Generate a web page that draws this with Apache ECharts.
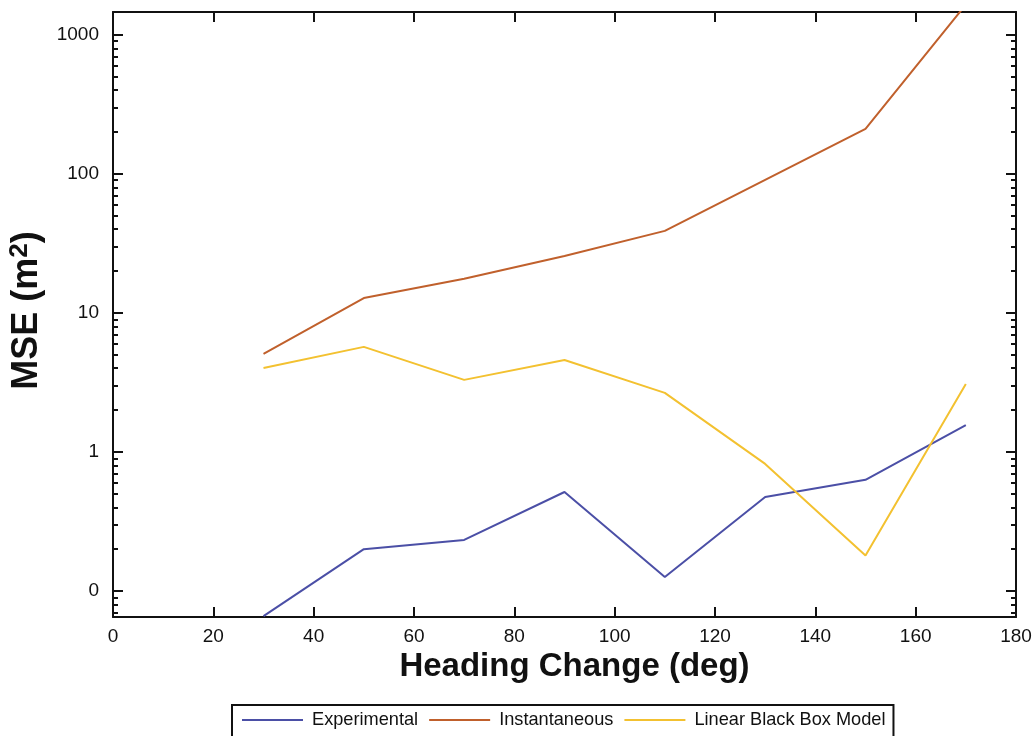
<!DOCTYPE html>
<html>
<head>
<meta charset="utf-8">
<script src="https://cdn.jsdelivr.net/npm/echarts@6/dist/echarts.min.js"></script>
<style>
  html, body { margin: 0; padding: 0; background: #fff; }
  #main { width: 1034px; height: 736px; }
</style>
</head>
<body>
<div id="main"></div>
<script>
// 横轴：航向变化 (deg)
const headingChange = [30, 50, 70, 90, 110, 130, 150, 170]
// 三条曲线的 MSE 值 (m^2)
const experimental = [0.066, 0.2, 0.233, 0.515, 0.126, 0.474, 0.63, 1.56]
const instantaneous = [5.07, 12.8, 17.6, 25.7, 38.9, 90.6, 211, 1650]
const linearBlackBox = [4.02, 5.7, 3.3, 4.59, 2.66, 0.82, 0.18, 3.08]
const seriesNames = ['Experimental', 'Instantaneous', 'Linear Black Box Model']

;(function () {
  let myChart = echarts.init(document.getElementById('main'))
  const font = 'Liberation Sans, Arial, Helvetica, sans-serif'
  const pair = (ys) => headingChange.map((x, i) => [x, ys[i]])

  // 共用的 y 轴样式（左右两条，onZero 要关掉，否则右轴会跑到 x=0 处）
  const yBase = {
    type: 'log',
    logBase: 10,
    min: 0.065,
    max: 1460,
    axisLine: { show: true, onZero: false, lineStyle: { color: '#111', width: 2 } },
    axisTick: { show: true, inside: true, length: 10, lineStyle: { color: '#111', width: 2 } },
    minorTick: { show: true, splitNumber: 9, length: 5, lineStyle: { color: '#111', width: 2 } },
    splitLine: { show: false },
    minorSplitLine: { show: false }
  }
  const xBase = {
    type: 'value',
    min: 0,
    max: 180,
    interval: 20,
    axisLine: { show: true, onZero: false, lineStyle: { color: '#111', width: 2 } },
    axisTick: { show: true, inside: true, length: 10, lineStyle: { color: '#111', width: 2 } },
    splitLine: { show: false }
  }

  let option = {
    animation: false,
    color: ['#4b4fa6', '#c0602c', '#f3c130'],
    // outerBoundsMode 关掉，网格位置固定不被轴名挤动
    grid: { left: 113, right: 18, top: 12, bottom: 119, containLabel: false, outerBoundsMode: 'none' },
    legend: {
      data: seriesNames,
      top: 705,
      left: 232,
      itemWidth: 61,
      itemHeight: 2,
      itemGap: 11,
      padding: [6, 8, 10, 10],
      borderColor: '#111',
      borderWidth: 2,
      icon: 'rect',
      textStyle: { fontFamily: font, fontSize: 18.2, color: '#111', padding: [0, 0, 0, 4] }
    },
    xAxis: [
      Object.assign({}, xBase, {
        position: 'bottom',
        name: 'Heading Change (deg)',
        nameLocation: 'middle',
        nameGap: 30,
        nameTextStyle: {
          fontFamily: font, fontSize: 33, fontWeight: 'bold', color: '#111',
          padding: [0, 0, 0, 20]
        },
        axisLabel: { fontFamily: font, fontSize: 19, color: '#111', margin: 10 }
      }),
      Object.assign({}, xBase, { position: 'top', axisLabel: { show: false } })
    ],
    yAxis: [
      Object.assign({}, yBase, {
        position: 'left',
        name: 'MSE (m{sup|2})',
        nameLocation: 'middle',
        nameGap: 65,
        nameTextStyle: {
          fontFamily: font, fontSize: 36, fontWeight: 'bold', color: '#111',
          padding: [0, 0, 0, 8],
          rich: {
            sup: { fontFamily: font, fontSize: 26, fontWeight: 'bold', color: '#111', padding: [0, 0, 15, 0] }
          }
        },
        axisLabel: {
          fontFamily: font, fontSize: 19, color: '#111', margin: 14,
          showMinLabel: false, showMaxLabel: false,
          // 0.1 在原图中显示为 0
          formatter: function (v) { return v < 1 ? '0' : String(Math.round(v)) }
        }
      }),
      Object.assign({}, yBase, { position: 'right', axisLabel: { show: false } })
    ],
    series: [
      { name: seriesNames[0], type: 'line', data: pair(experimental) },
      { name: seriesNames[1], type: 'line', data: pair(instantaneous) },
      { name: seriesNames[2], type: 'line', data: pair(linearBlackBox) }
    ].map(s => Object.assign(s, {
      showSymbol: false,
      symbol: 'none',
      clip: true,
      lineStyle: { width: 2 }
    }))
  }

  myChart.setOption(option)
  window.addEventListener('resize', function () {
    myChart.resize()
  })
})();
</script>
</body>
</html>
